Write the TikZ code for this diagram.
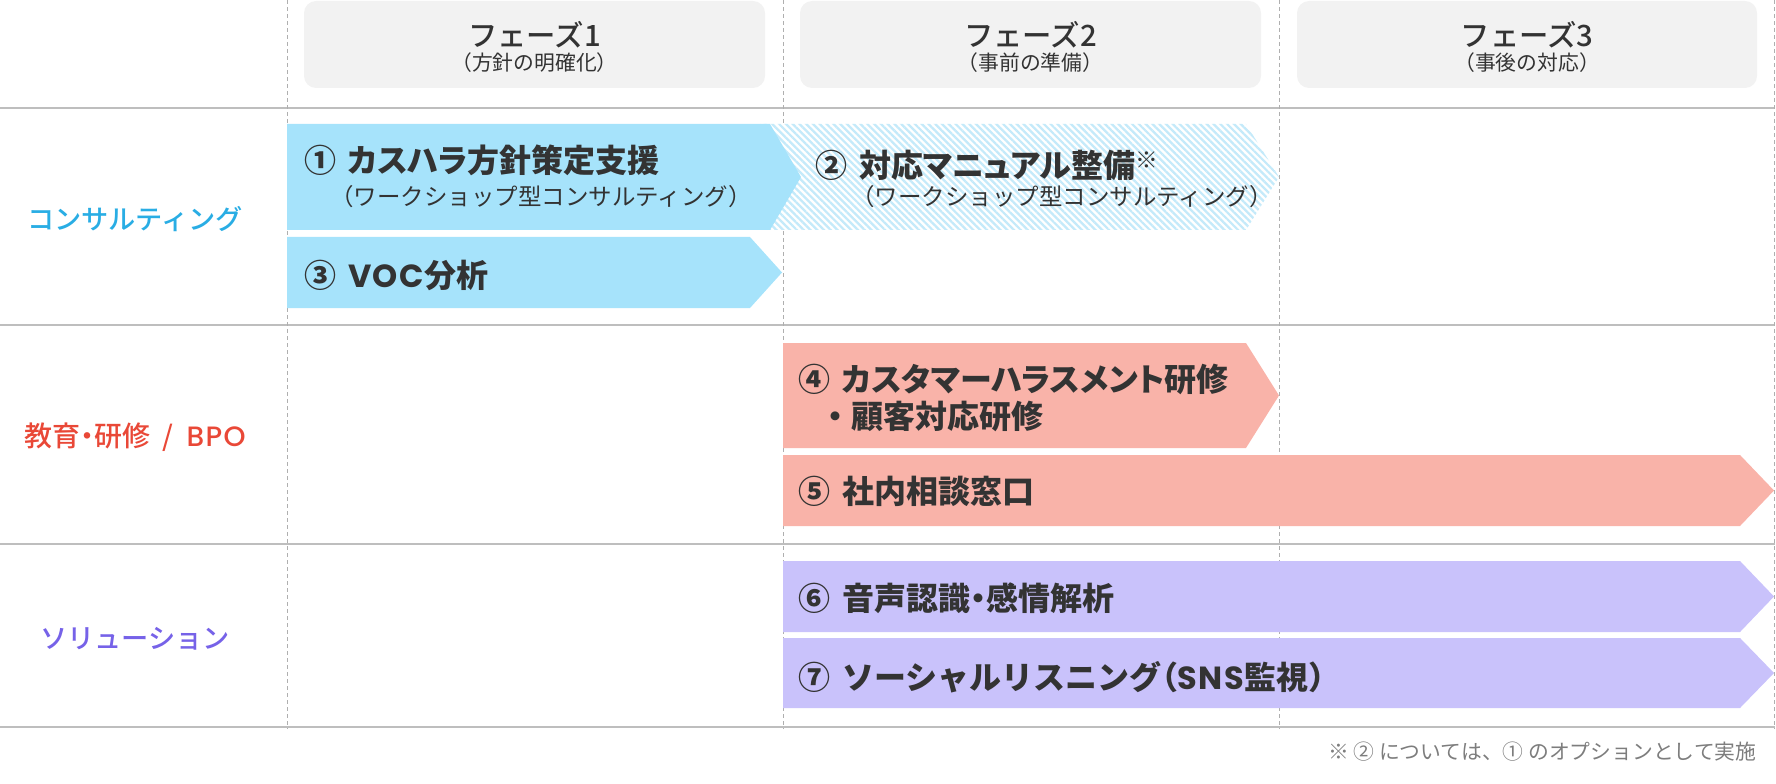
\documentclass[tikz,border=0pt]{standalone}
\usepackage{fontspec}
\setmainfont{Noto Sans CJK JP}
\newfontfamily\jpmed{Noto Sans CJK JP Medium}
\newfontfamily\jpmedp[RawFeature=+palt]{Noto Sans CJK JP Medium}
\newfontfamily\lat[LetterSpace=5]{Poppins}
\newfontfamily\latmed[LetterSpace=5]{Poppins Medium}
\usetikzlibrary{patterns.meta}

\newcommand{\numgap}{\hspace{0.36em}}
\newcommand{\notemark}{\raisebox{0.28em}{\fontsize{17}{17}\selectfont ※}}
\newcommand{\narrowparen}{{\addfontfeatures{RawFeature=+palt}（}}

\definecolor{txtdark}{RGB}{51,51,51}
\definecolor{hdrgray}{RGB}{242,242,242}
\definecolor{gridgray}{RGB}{190,190,190}
\definecolor{dashgray}{RGB}{175,175,175}
\definecolor{consblue}{RGB}{41,173,228}
\definecolor{edured}{RGB}{233,72,55}
\definecolor{solpurple}{RGB}{118,98,232}
\definecolor{consfill}{RGB}{166,227,251}
\definecolor{hatchblue}{RGB}{196,234,250}
\definecolor{edufill}{RGB}{249,179,169}
\definecolor{solfill}{RGB}{201,194,251}
\definecolor{notegray}{RGB}{125,125,125}

\tikzset{every picture/.style={line width=0.75pt}}
\tikzset{
  hdrbox/.style={fill=hdrgray, rounded corners=9pt},
  hdrtitle/.style={inner sep=0pt, text=txtdark, font=\jpmed\fontsize{22}{26}\selectfont},
  hdrsub/.style={inner sep=0pt, text=txtdark, font=\fontsize{15.6}{18}\selectfont},
  rowlabel/.style={inner sep=0pt, font=\jpmed\fontsize{20.4}{24}\selectfont},
  mainlabel/.style={inner sep=0pt, anchor=west, text=txtdark,
    font=\bfseries\addfontfeatures{RawFeature=+palt}\fontsize{24}{28}\selectfont},
  sublabel/.style={inner sep=0pt, anchor=west, text=txtdark, font=\fontsize{17.6}{21}\selectfont},
  gridh/.style={draw=gridgray, line width=1.1pt},
  gridv/.style={draw=dashgray, line width=0.75pt, dash pattern=on 3pt off 2.25pt},
}

\begin{document}
\begin{tikzpicture}[x=0.75pt,y=0.75pt,yscale=-1]
\useasboundingbox (0,0) rectangle (1776,784);

% phase headers
\fill[hdrbox] (304,1) rectangle (765,88);
\fill[hdrbox] (800,1) rectangle (1261,88);
\fill[hdrbox] (1297,1) rectangle (1757,88);
\node[hdrtitle] (ph1) at (534.5,35) {フェーズ1};
\node[hdrsub] (ph1sub) at (534.5,63) {（方針の明確化）};
\node[hdrtitle] (ph2) at (1030.5,35) {フェーズ2};
\node[hdrsub] (ph2sub) at (1030.5,63) {（事前の準備）};
\node[hdrtitle] (ph3) at (1527,35) {フェーズ3};
\node[hdrsub] (ph3sub) at (1527,63) {（事後の対応）};

% grid
\foreach \y in {108,325,544,727}
  \draw[gridh] (0,\y) -- (1775,\y);
\foreach \x in {287.5,783,1279,1774.5}
  \draw[gridv] (\x,0) -- (\x,729);

% row labels
\node[rowlabel, text=consblue] (rcons) at (135,219) {コンサルティング};
\node[rowlabel, text=edured, font=\jpmedp\fontsize{21}{24}\selectfont] (redu) at (135,437)
  {教育・研修\hspace{0.45em}/\hspace{0.45em}{\latmed BPO}};
\node[rowlabel, text=solpurple] (rsol) at (135,639) {ソリューション};

% consulting
\fill[white] (760,124) -- (1246,124) -- (1279,177) -- (1246,230) -- (760,230) -- cycle;
\fill[pattern={Lines[angle=-45,distance=3.6pt,line width=1.7pt]}, pattern color=hatchblue]
  (760,124) -- (1246,124) -- (1279,177) -- (1246,230) -- (760,230) -- cycle;
\fill[consfill] (287,124) -- (770,124) -- (801,177) -- (770,230) -- (287,230) -- cycle;
\fill[consfill] (287,237) -- (750,237) -- (782,272.5) -- (750,308) -- (287,308) -- cycle;
\node[mainlabel] (a1) at (304,160) {①\numgap カスハラ方針策定支援};
\node[sublabel] (a1sub) at (330,197) {（ワークショップ型コンサルティング）};
\node[mainlabel] (a2) at (815,165) {②\numgap 対応マニュアル整備\notemark};
\node[sublabel] (a2sub) at (851,197) {（ワークショップ型コンサルティング）};
\node[mainlabel] (a3) at (304,275) {③\numgap {\lat VOC}分析};

% education / BPO
\fill[edufill] (783,343) -- (1246,343) -- (1279,395.5) -- (1246,448) -- (783,448) -- cycle;
\fill[edufill] (783,455) -- (1740,455) -- (1774,490.5) -- (1740,526) -- (783,526) -- cycle;
\node[mainlabel] (a4) at (798,379) {④\numgap カスタマーハラスメント研修};
\node[mainlabel, font=\bfseries\fontsize{24}{28}\selectfont] (a4b) at (819,416) {・顧客対応研修};
\node[mainlabel] (a5) at (798,491) {⑤\numgap 社内相談窓口};

% solutions
\fill[solfill] (783,561) -- (1740,561) -- (1774,596.5) -- (1740,632) -- (783,632) -- cycle;
\fill[solfill] (783,638) -- (1740,638) -- (1774,673) -- (1740,708) -- (783,708) -- cycle;
\node[mainlabel] (a6) at (798,598) {⑥\numgap 音声認識・感情解析};
\node[mainlabel, font=\bfseries\fontsize{24}{28}\selectfont] (a7) at (798,677)
  {⑦\numgap ソーシャルリスニング\narrowparen{\lat SNS}監視）};

% note
\node[inner sep=0pt, anchor=east, text=notegray, font=\fontsize{15.6}{18}\selectfont] (note) at (1757,752)
  {※ ② については、① のオプションとして実施};
\end{tikzpicture}
\end{document}
